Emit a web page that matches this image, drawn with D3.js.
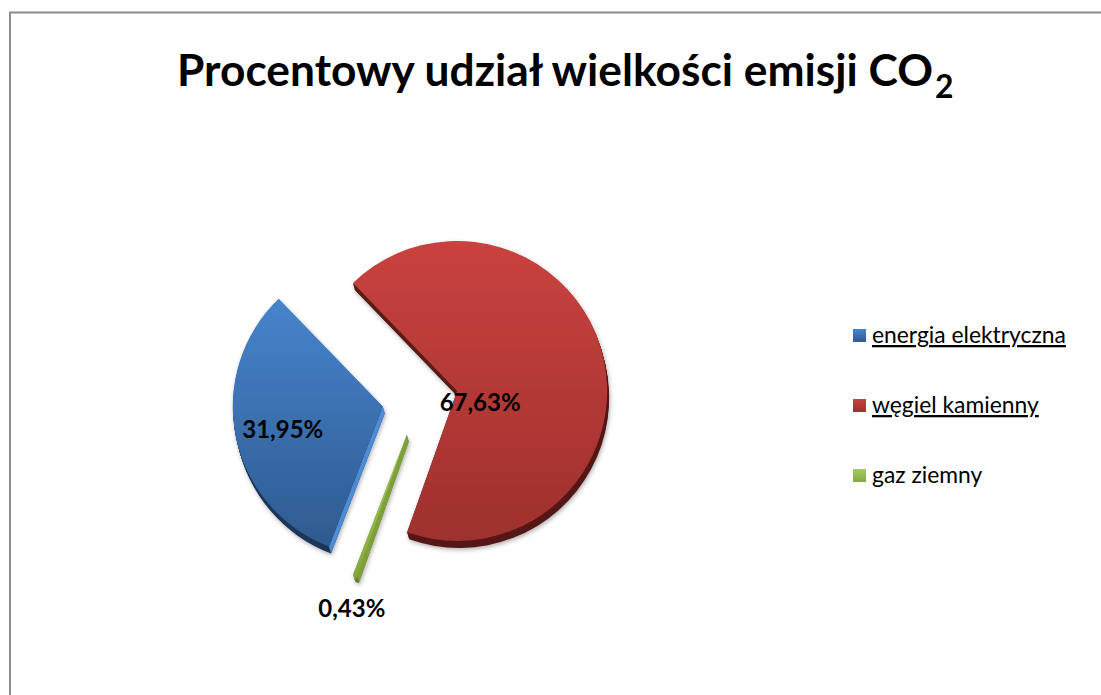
<!DOCTYPE html>
<html>
<head>
<meta charset="utf-8">
<script src="https://cdn.jsdelivr.net/npm/d3@7"></script>
<style>
  body { margin: 0; background: #fff; }
  svg { display: block; }
  text { font-family: Lato, "Open Sans", sans-serif; }
</style>
</head>
<body>
<div id="wrapper"></div>
<script>
// data
const categories = ["energia elektryczna", "węgiel kamienny", "gaz ziemny"];
const shares = [31.95, 67.63, 0.43];
const valueLabels = ["31,95%", "67,63%", "0,43%"];
const linked = [true, true, false];

// colours: face top, face bottom, outer wall, cut wall
const faceTop = ["#4784cd", "#c9423f", "#a5cc5c"];
const faceBottom = ["#2e5a8f", "#9e302d", "#86a83f"];
const wallOuter = ["#1c3558", "#541614", "#5f7a26"];
const wallCut = ["#4e8bd6", "#5a1a18", "#7f9f3a"];

function drawPie() {
  const width = 1101;
  const height = 695;

  const svg = d3
    .select("#wrapper")
    .append("svg")
    .attr("width", width)
    .attr("height", height);

  // chart frame
  svg
    .append("rect")
    .attr("x", 10)
    .attr("y", 12.5)
    .attr("width", 1300)
    .attr("height", 1000)
    .attr("fill", "none")
    .attr("stroke", "#8c8c8c")
    .attr("stroke-width", 2);

  const defs = svg.append("defs");
  const shadow = defs
    .append("filter")
    .attr("id", "shadow")
    .attr("x", "-20%")
    .attr("y", "-20%")
    .attr("width", "140%")
    .attr("height", "140%");
  shadow
    .append("feDropShadow")
    .attr("dx", 1)
    .attr("dy", 2)
    .attr("stdDeviation", 2)
    .attr("flood-color", "#000")
    .attr("flood-opacity", 0.3);

  categories.forEach((c, i) => {
    const g = defs
      .append("linearGradient")
      .attr("id", `face${i}`)
      .attr("x1", 0)
      .attr("y1", 0)
      .attr("x2", 0)
      .attr("y2", 1);
    g.append("stop").attr("offset", "0%").attr("stop-color", faceTop[i]);
    g.append("stop").attr("offset", "100%").attr("stop-color", faceBottom[i]);
  });

  // title
  const title = svg
    .append("text")
    .attr("x", 177)
    .attr("y", 86)
    .attr("font-weight", 700)
    .attr("fill", "#000");
  const titleMain = title.append("tspan").text("Procentowy udział wielkości emisji CO");
  title.append("tspan").attr("class", "sub").attr("dy", 12).text("2");
  title.style("font-size", "36px");
  const mainW = titleMain.node().getComputedTextLength();
  const titleSize = (36 * 756) / mainW;
  title.style("font-size", `${titleSize}px`);
  title.select(".sub").style("font-size", `${titleSize * 0.72}px`).attr("dx", 2);

  // pie
  const center = { x: 420, y: 399 };
  const radius = 150;
  const explode = 38;
  const start = (201 * Math.PI) / 180;
  const depth = { x: 2, y: 7 };

  const pie = d3
    .pie()
    .sort(null)
    .value((d) => d)
    .startAngle(start)
    .endAngle(start + 2 * Math.PI);
  const arc = d3.arc().innerRadius(0).outerRadius(radius);
  const arcs = pie(shares);

  const offset = (d) => {
    const a = (d.startAngle + d.endAngle) / 2;
    return [center.x + explode * Math.sin(a), center.y - explode * Math.cos(a)];
  };

  const slices = svg
    .selectAll(".slice")
    .data(arcs)
    .enter()
    .append("g")
    .attr("class", "slice")
    .attr("filter", "url(#shadow)")
    .attr("transform", (d) => `translate(${offset(d)})`);

  // extruded side
  const steps = d3.range(1, 9).map((k) => k / 8);
  slices.each(function (d) {
    const g = d3.select(this);
    steps.forEach((t) => {
      g.append("path")
        .attr("d", arc(d))
        .attr("transform", `translate(${depth.x * t},${depth.y * t})`)
        .attr("fill", wallOuter[d.index]);
    });
    // walls along the cut edges
    [d.startAngle, d.endAngle].forEach((a) => {
      const p = [radius * Math.sin(a), -radius * Math.cos(a)];
      const quad = [
        [0, 0],
        p,
        [p[0] + depth.x, p[1] + depth.y],
        [depth.x, depth.y],
      ];
      g.append("path")
        .attr("d", d3.line()(quad) + "Z")
        .attr("fill", wallCut[d.index]);
    });
    g.append("path")
      .attr("d", arc(d))
      .attr("fill", `url(#face${d.index})`);
  });

  // value labels (placed where the original chart put them)
  const labelShift = [
    [-100, 31],
    [23, 20],
    [-55, 182],
  ];
  svg
    .selectAll(".value")
    .data(arcs)
    .enter()
    .append("text")
    .attr("class", "value")
    .attr("x", (d) => offset(d)[0] + labelShift[d.index][0])
    .attr("y", (d) => offset(d)[1] + labelShift[d.index][1])
    .attr("text-anchor", "middle")
    .attr("font-weight", 700)
    .style("font-size", "24px")
    .attr("fill", "#000")
    .text((d) => valueLabels[d.index]);

  // legend
  const legend = svg
    .selectAll(".legend")
    .data(categories)
    .enter()
    .append("g")
    .attr("class", "legend")
    .attr("transform", (d, i) => `translate(853, ${329 + i * 70})`);

  legend
    .append("rect")
    .attr("width", 13)
    .attr("height", 13)
    .attr("fill", (d, i) => `url(#face${i})`);

  const legendText = legend
    .append("text")
    .attr("x", 19)
    .attr("y", 14)
    .style("font-size", "20px")
    .attr("fill", "#000")
    .style("text-decoration", (d, i) => (linked[i] ? "underline" : "none"))
    .text((d) => d);

  const w0 = legendText.node().getComputedTextLength();
  legendText.style("font-size", `${(20 * 194) / w0}px`);
}
drawPie();
</script>
</body>
</html>
